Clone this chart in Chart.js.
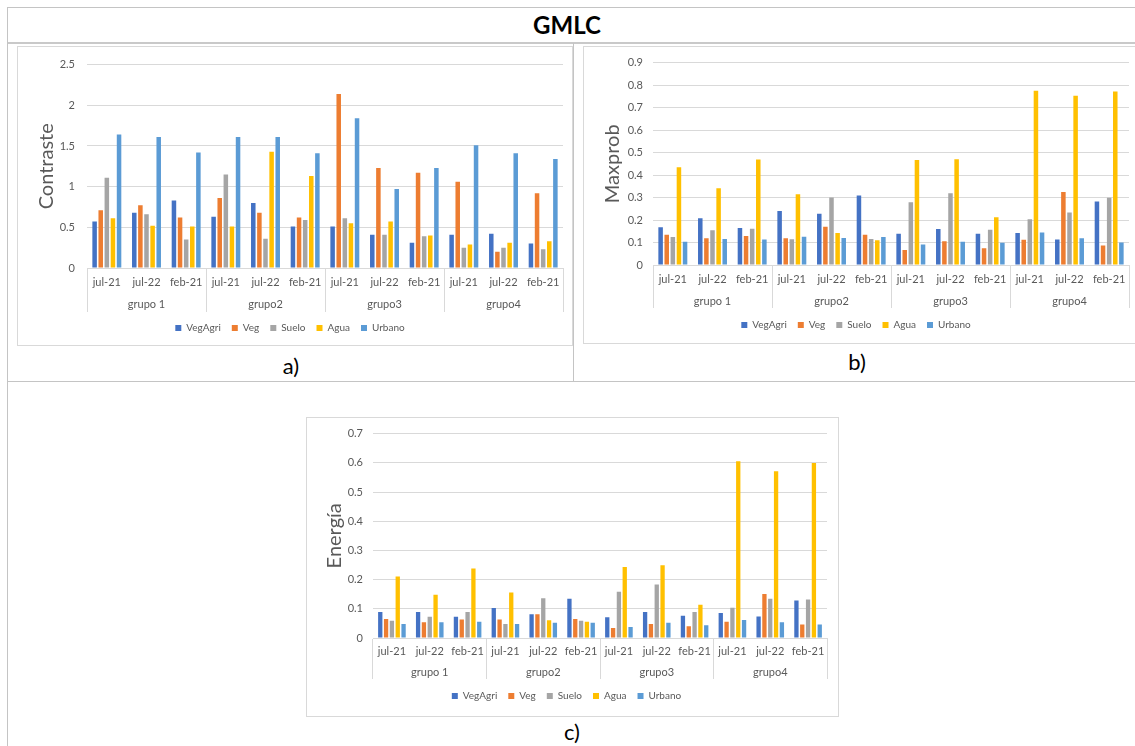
<!DOCTYPE html>
<html>
<head>
<meta charset="utf-8">
<title>GMLC</title>
<script src="https://cdn.jsdelivr.net/npm/chart.js@4.4.0/dist/chart.umd.min.js"></script>
<style>
  html, body { margin: 0; padding: 0; background: #ffffff; }
  body { position: relative; width: 1135px; height: 746px; overflow: hidden; font-family: Lato, "Open Sans", sans-serif; }
  .rule { position: absolute; background: #c4c4c4; }
  .frame { position: absolute; border: 1px solid #d9d9d9; box-sizing: border-box; }
  .plot { position: absolute; }
  .tag { position: absolute; transform: translate(-50%, -50%); color: #000; font-size: 22px; line-height: 1; white-space: nowrap; }
  .head { position: absolute; transform: translate(-50%, -50%); color: #000; font-size: 24px; font-weight: 700; line-height: 1; }
</style>
</head>
<body>

<!-- table rules -->
<div class="rule" style="left:7px; top:7px; width:1128px; height:1px;"></div>
<div class="rule" style="left:7px; top:42px; width:1128px; height:2px; background:#c9c9c9;"></div>
<div class="rule" style="left:7px; top:7px; width:1px; height:739px;"></div>
<div class="rule" style="left:573px; top:43px; width:1px; height:338px;"></div>
<div class="rule" style="left:7px; top:381px; width:1128px; height:1px;"></div>

<div class="head" style="left:567px; top:25px;">GMLC</div>

<!-- chart frames -->
<div class="frame" style="left:17px; top:46px; width:556px; height:300px;"></div>
<div class="frame" style="left:583px; top:46px; width:560px; height:298px;"></div>
<div class="frame" style="left:306px; top:417px; width:533px; height:300px;"></div>

<canvas id="chartA" class="plot" width="555" height="299" style="left:17px; top:46px;"></canvas>
<canvas id="chartB" class="plot" width="552" height="297" style="left:583px; top:46px;"></canvas>
<canvas id="chartC" class="plot" width="532" height="299" style="left:306px; top:417px;"></canvas>

<div class="tag" style="left:291px; top:366px;">a)</div>
<div class="tag" style="left:857px; top:362px;">b)</div>
<div class="tag" style="left:572px; top:732px;">c)</div>

<script>
// Category axis: three dates inside each of four groups
const groupLabels = ['grupo 1', 'grupo2', 'grupo3', 'grupo4'];
const dateLabels = ['jul-21', 'jul-22', 'feb-21'];
const categoryLabels = ['jul-21', 'jul-22', 'feb-21', 'jul-21', 'jul-22', 'feb-21',
                        'jul-21', 'jul-22', 'feb-21', 'jul-21', 'jul-22', 'feb-21'];

const seriesNames = ['VegAgri', 'Veg', 'Suelo', 'Agua', 'Urbano'];
const seriesColors = ['#4472C4', '#ED7D31', '#A5A5A5', '#FFC000', '#5B9BD5'];

// a) Contraste
const contrasteVegAgri = [0.57, 0.68, 0.83, 0.63, 0.80, 0.51, 0.51, 0.41, 0.31, 0.41, 0.42, 0.30];
const contrasteVeg     = [0.71, 0.77, 0.62, 0.86, 0.68, 0.62, 2.14, 1.23, 1.17, 1.06, 0.20, 0.92];
const contrasteSuelo   = [1.11, 0.66, 0.35, 1.15, 0.36, 0.59, 0.61, 0.41, 0.39, 0.25, 0.25, 0.23];
const contrasteAgua    = [0.61, 0.52, 0.51, 0.51, 1.43, 1.13, 0.55, 0.57, 0.40, 0.29, 0.31, 0.33];
const contrasteUrbano  = [1.64, 1.61, 1.42, 1.61, 1.61, 1.41, 1.84, 0.97, 1.23, 1.51, 1.41, 1.34];

// b) Maxprob
const maxprobVegAgri = [0.168, 0.208, 0.165, 0.240, 0.228, 0.309, 0.139, 0.160, 0.139, 0.142, 0.113, 0.282];
const maxprobVeg     = [0.135, 0.119, 0.129, 0.119, 0.170, 0.135, 0.067, 0.106, 0.075, 0.112, 0.325, 0.087];
const maxprobSuelo   = [0.125, 0.154, 0.161, 0.115, 0.300, 0.116, 0.279, 0.319, 0.157, 0.203, 0.234, 0.299];
const maxprobAgua    = [0.435, 0.341, 0.469, 0.315, 0.142, 0.110, 0.467, 0.470, 0.212, 0.775, 0.753, 0.771];
const maxprobUrbano  = [0.103, 0.116, 0.113, 0.126, 0.120, 0.125, 0.091, 0.103, 0.099, 0.145, 0.119, 0.100];

// c) Energía
const energiaVegAgri = [0.089, 0.089, 0.073, 0.103, 0.081, 0.134, 0.071, 0.089, 0.076, 0.086, 0.074, 0.128];
const energiaVeg     = [0.065, 0.054, 0.063, 0.063, 0.081, 0.065, 0.034, 0.048, 0.040, 0.056, 0.151, 0.046];
const energiaSuelo   = [0.059, 0.073, 0.089, 0.048, 0.136, 0.059, 0.158, 0.183, 0.089, 0.104, 0.134, 0.132];
const energiaAgua    = [0.211, 0.148, 0.238, 0.156, 0.061, 0.056, 0.243, 0.249, 0.114, 0.605, 0.571, 0.599];
const energiaUrbano  = [0.048, 0.054, 0.056, 0.048, 0.052, 0.052, 0.038, 0.052, 0.044, 0.062, 0.054, 0.046];

Chart.defaults.font.family = 'Lato, "Open Sans", sans-serif';
Chart.defaults.font.size = 11;
Chart.defaults.color = '#595959';

const GRID = '#d9d9d9';

// "0", "0.5", "1" ... without padded decimals
const plainNumber = v => String(Math.round(v * 100) / 100);

function groupedBarChart(canvasId, series, s) {
  const datasets = series.map((values, i) => ({
    label: seriesNames[i],
    data: values,
    backgroundColor: seriesColors[i],
    borderWidth: 0,
    xAxisID: 'x',
    yAxisID: 'y',
    categoryPercentage: 0.77,
    barPercentage: 0.74
  }));

  return new Chart(document.getElementById(canvasId), {
    type: 'bar',
    data: { labels: categoryLabels, datasets },
    options: {
      responsive: false,
      animation: false,
      devicePixelRatio: 1,
      layout: { padding: { left: 0, right: s.padRight, top: s.padTop, bottom: s.padBottom } },
      plugins: {
        legend: {
          position: 'bottom',
          labels: { boxWidth: 6, boxHeight: 6, padding: 11, color: '#595959', font: { size: 10 } }
        },
        tooltip: { enabled: false },
        title: { display: false }
      },
      scales: {
        x: {
          type: 'category',
          offset: true,
          weight: 0,
          grid: {
            display: true,
            offset: true,
            drawOnChartArea: false,
            tickLength: s.sepLength,
            tickWidth: 1,
            // separators only at the group boundaries
            tickColor: ctx => (ctx.type !== 'tick' || ctx.index % dateLabels.length === 0) ? GRID : 'rgba(0,0,0,0)'
          },
          border: { display: true, color: GRID, width: 1 },
          ticks: { autoSkip: false, maxRotation: 0, minRotation: 0, padding: s.catPadding, color: '#595959', font: { size: 11 } },
          afterFit: scale => { scale.height = 22; }
        },
        groups: {
          type: 'category',
          position: 'bottom',
          labels: groupLabels,
          offset: true,
          weight: 1,
          grid: { display: false, drawTicks: false },
          border: { display: false },
          ticks: { autoSkip: false, maxRotation: 0, padding: s.groupPadding, color: '#595959', font: { size: 11 } },
          afterFit: scale => { scale.height = s.groupHeight; }
        },
        y: {
          min: 0,
          max: s.yMax,
          ticks: { stepSize: s.step, padding: s.yTickPadding, color: '#595959', font: { size: 11 }, callback: plainNumber },
          grid: { color: GRID, lineWidth: 1, drawTicks: false },
          border: { display: false },
          title: {
            display: true,
            text: s.title,
            color: '#595959',
            font: { size: 20 },
            padding: { top: s.titleOffset, bottom: 0 }
          },
          afterFit: scale => { scale.width = s.yWidth; }
        }
      }
    }
  });
}

groupedBarChart('chartA',
  [contrasteVegAgri, contrasteVeg, contrasteSuelo, contrasteAgua, contrasteUrbano],
  { title: 'Contraste', yMax: 2.5, step: 0.5, yWidth: 70, yTickPadding: 12, titleOffset: 18,
    padTop: 13, padRight: 9, padBottom: 2, sepLength: 44, catPadding: -36, groupPadding: 8, groupHeight: 22 });

groupedBarChart('chartB',
  [maxprobVegAgri, maxprobVeg, maxprobSuelo, maxprobAgua, maxprobUrbano],
  { title: 'Maxprob', yMax: 0.9, step: 0.1, yWidth: 70, yTickPadding: 10, titleOffset: 18,
    padTop: 12, padRight: 6, padBottom: 3, sepLength: 43, catPadding: -35, groupPadding: 8, groupHeight: 22 });

groupedBarChart('chartC',
  [energiaVegAgri, energiaVeg, energiaSuelo, energiaAgua, energiaUrbano],
  { title: 'Energía', yMax: 0.7, step: 0.1, yWidth: 67, yTickPadding: 10, titleOffset: 17,
    padTop: 13, padRight: 11, padBottom: 5, sepLength: 41, catPadding: -34, groupPadding: 6, groupHeight: 20 });
</script>
</body>
</html>
